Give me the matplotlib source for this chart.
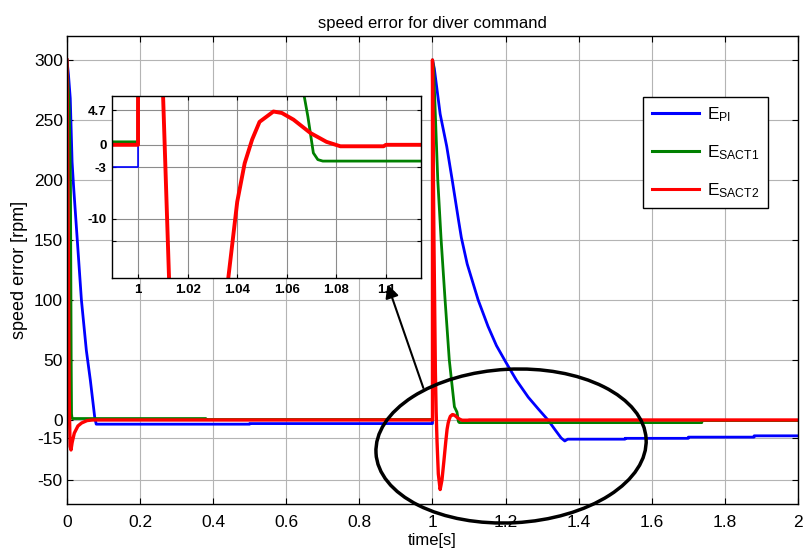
import matplotlib
matplotlib.use("Agg")
import matplotlib.pyplot as plt
from matplotlib.patches import Ellipse, FancyArrowPatch
from matplotlib.transforms import IdentityTransform

plt.rcParams['font.family'] = ['Liberation Sans', 'DejaVu Sans']
plt.rcParams['mathtext.fontset'] = 'custom'
plt.rcParams['mathtext.rm'] = 'Liberation Sans'
plt.rcParams['mathtext.it'] = 'Liberation Sans:italic'
plt.rcParams['axes.unicode_minus'] = False

# speed error of the PI controller
t_pi = [0, 0.004, 0.009, 0.014, 0.018, 0.0395, 0.053, 0.064, 0.076, 0.08,
        0.5, 0.5, 1.0, 1.0, 1.005, 1.021, 1.039, 1.054, 1.071, 1.079,
        1.095, 1.108, 1.125, 1.152, 1.175, 1.201, 1.23, 1.262, 1.29, 1.316,
        1.335, 1.352, 1.362, 1.37, 1.527, 1.527, 1.70, 1.70, 1.88, 1.88,
        2.0]
e_pi = [300, 288, 268, 215, 195, 100, 58, 33, 2, -3.5,
        -3.5, -3, -3, 300, 293, 255, 228, 200, 167, 152,
        130, 117, 100, 78, 62, 48, 33, 19, 9, 0,
        -8, -15, -17.5, -16, -16, -15.3, -15.3, -14.3, -14.3, -13.2,
        -13.2]

# speed error SACT1
t_s1 = [0, 0.006, 0.0095, 0.0115, 0.0125, 0.014, 0.38, 0.38, 1.0, 1.0,
        1.003, 1.0145, 1.0237, 1.0345, 1.046, 1.06, 1.067, 1.0685, 1.0707, 1.0725,
        1.0745, 1.737, 1.737, 2.0]
e_s1 = [300, 260, 200, 50, 5, 1.2, 1.2, 0.4, 0.4, 300,
        294, 200, 150, 100, 50, 11, 6.6, 3.8, -1.1, -2.0,
        -2.2, -2.2, -0.5, -0.5]

# speed error SACT2
t_s2 = [0, 0.0035, 0.006, 0.0085, 0.011, 0.014, 0.02, 0.03, 0.04, 0.055,
        0.07, 1.0, 1.0, 1.004, 1.008, 1.0101, 1.0125, 1.016, 1.021, 1.026,
        1.031, 1.0364, 1.040, 1.043, 1.046, 1.049, 1.0546, 1.058, 1.0627, 1.0695,
        1.076, 1.0816, 1.099, 1.1, 2.0]
e_s2 = [300, 150, 20, -22, -25, -19, -11, -5, -2.5, -0.5,
        0, 0, 300, 150, 40, 6.6, -18, -45, -58, -50,
        -35, -18, -7.7, -2.5, 0.7, 3.1, 4.5, 4.3, 3.4, 1.6,
        0.4, -0.2, -0.2, 0, 0]

labels = [r'$\mathregular{E_{PI}}$', r'$\mathregular{E_{SACT1}}$', r'$\mathregular{E_{SACT2}}$']
colors = ['#0000ff', '#008000', '#ff0000']

x_ticks = [0, 0.2, 0.4, 0.6, 0.8, 1.0, 1.2, 1.4, 1.6, 1.8, 2.0]
x_tick_labels = ['0', '0.2', '0.4', '0.6', '0.8', '1', '1.2', '1.4', '1.6', '1.8', '2']
y_ticks = [-50, -15, 0, 50, 100, 150, 200, 250, 300]

zx_ticks = [1.0, 1.02, 1.04, 1.06, 1.08, 1.1]
zx_tick_labels = ['1', '1.02', '1.04', '1.06', '1.08', '1.1']
zy_ticks = [-13, -10, -3, 0, 4.7]
zy_tick_labels = ['', '-10', '-3', '0', '4.7']

series = [(t_pi, e_pi), (t_s1, e_s1), (t_s2, e_s2)]

fig = plt.figure(figsize=(8.04, 5.57), dpi=100)
ax = fig.add_axes([0.0833, 0.0952, 0.9092, 0.8402])

lines = []
for (t, e), c, lw in zip(series, colors, [2.0, 2.0, 2.4]):
    ln, = ax.plot(t, e, color=c, lw=lw)
    lines.append(ln)

ax.set_xlim(0, 2)
ax.set_ylim(-70, 320)
ax.set_xticks(x_ticks)
ax.set_xticklabels(x_tick_labels)
ax.set_yticks(y_ticks)
ax.grid(True, color='#b4b4b4', lw=0.8)
ax.tick_params(direction='in', top=True, right=True, length=4, labelsize=12.5)
ax.tick_params(axis='x', pad=8)
ax.tick_params(axis='y', pad=3)
for s in ax.spines.values():
    s.set_linewidth(1.0)
ax.set_title('speed error for diver command', fontsize=12, pad=6)
ax.set_xlabel('time[s]', fontsize=12, labelpad=2)
ax.set_ylabel('speed error [rpm]', fontsize=13, labelpad=4)

leg = ax.legend(lines, labels, loc='upper left', bbox_to_anchor=(0.788, 0.870),
                fancybox=False, edgecolor='black', framealpha=1, fontsize=12.5,
                handlelength=2.7, labelspacing=1.1, borderpad=0.5,
                handletextpad=0.5, borderaxespad=0)
leg.get_frame().set_linewidth(1.0)
for ln in leg.get_lines():
    ln.set_linewidth(2.2)

# zoomed inset
axin = fig.add_axes([0.1393, 0.5009, 0.3843, 0.3268])
for (t, e), c, lw in zip(series, colors, [1.2, 2.0, 2.8]):
    axin.plot(t, e, color=c, lw=lw)
axin.set_xlim(0.9895, 1.1141)
axin.set_ylim(-18, 6.6)
axin.set_xticks(zx_ticks)
axin.set_xticklabels(zx_tick_labels)
axin.set_yticks(zy_ticks)
axin.set_yticklabels(zy_tick_labels)
axin.grid(True, color='#8c8c8c', lw=0.8)
axin.tick_params(direction='in', top=True, right=True, length=3, labelsize=9.5, pad=4)
for lab in axin.get_xticklabels() + axin.get_yticklabels():
    lab.set_fontweight('bold')
for s in axin.spines.values():
    s.set_linewidth(1.0)

# ellipse around the second transient and arrow to the inset
ell_t, ell_v, ell_w, ell_h = 1.215, -21.7, 0.74, 128
x0, y0 = ax.transData.transform((ell_t - ell_w / 2, ell_v - ell_h / 2))
x1, y1 = ax.transData.transform((ell_t + ell_w / 2, ell_v + ell_h / 2))
ell = Ellipse(((x0 + x1) / 2, (y0 + y1) / 2), x1 - x0, y1 - y0, angle=3,
              transform=IdentityTransform(), fill=False, ec='black', lw=2.5)
fig.add_artist(ell)

arrow = FancyArrowPatch((0.975, 26.7), (0.877, 113), transform=ax.transData,
                        arrowstyle='-|>', mutation_scale=20, color='black',
                        lw=1.5, shrinkA=0, shrinkB=0)
fig.add_artist(arrow)

fig.savefig('out.png', dpi=100)
